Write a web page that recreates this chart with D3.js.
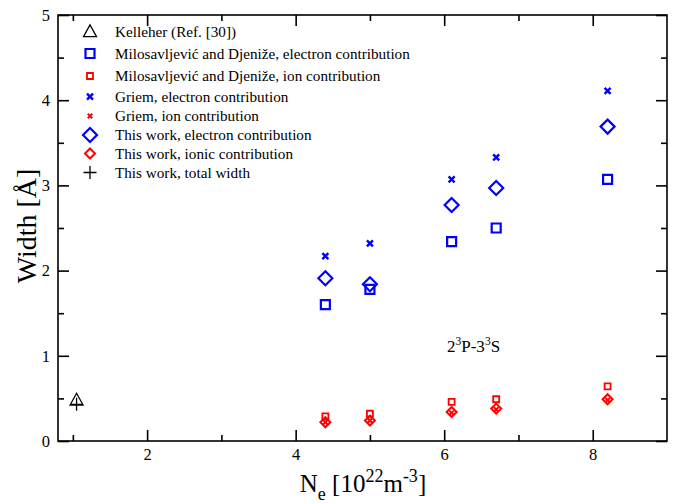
<!DOCTYPE html>
<html><head><meta charset="utf-8">
<script src="https://cdn.jsdelivr.net/npm/d3@7"></script>
<style>body{margin:0;background:#fff}svg{display:block}text{font-family:"Liberation Serif","Times New Roman",serif}</style>
</head><body><svg id="c" width="675" height="504"></svg>
<script>
// ---- data ----
const densities = [4.4, 5.0, 6.1, 6.7, 8.2];
const milosElectron = [1.60, 1.78, 2.34, 2.50, 3.07];
const milosIon = [0.29, 0.32, 0.46, 0.49, 0.64];
const griemElectron = [2.17, 2.32, 3.07, 3.33, 4.11];
const griemIon = [0.22, 0.24, 0.33, 0.37, 0.48];
const thisElectron = [1.91, 1.84, 2.77, 2.97, 3.69];
const thisIon = [0.22, 0.24, 0.34, 0.38, 0.49];
const kelleherX = [1.05];
const kelleherWidth = [0.48];
const totalX = [1.05];
const totalWidth = [0.43];
const xMajorTicks = [2, 4, 6, 8];
const xMinorTicks = [1, 3, 5, 7];
const yMajorTicks = [0, 1, 2, 3, 4, 5];
const yMinorTicks = [0.5, 1.5, 2.5, 3.5, 4.5];
const legendLabels = [
  "Kelleher (Ref. [30])",
  "Milosavljević and Djeniže, electron contribution",
  "Milosavljević and Djeniže, ion contribution",
  "Griem, electron contribution",
  "Griem, ion contribution",
  "This work, electron contribution",
  "This work, ionic contribution",
  "This work, total width"
];

const SERIF = '"Liberation Serif", "Times New Roman", serif';
const svg = d3.select("#c");
const L = 58, R = 667, T = 15, B = 441;
const x = d3.scaleLinear().domain([0.8, 9]).range([L, R]);
const y = d3.scaleLinear().domain([0, 5]).range([B, T]);

// frame
svg.append("rect").attr("x", L).attr("y", T).attr("width", R - L).attr("height", B - T)
  .attr("fill", "none").attr("stroke", "#000").attr("stroke-width", 1.6);

function axisStyle(g) {
  g.attr("font-family", SERIF);
  g.select(".domain").remove();
  g.selectAll(".tick line").attr("stroke", "#000").attr("stroke-width", 1.6);
  g.selectAll(".tick text").style("font-family", SERIF).attr("font-size", 16.5).attr("fill", "#000");
}
// bottom
svg.append("g").attr("transform", `translate(0,${B})`)
  .call(d3.axisBottom(x).tickValues(xMajorTicks).tickSize(-11).tickPadding(7).tickFormat(d3.format("d"))).call(axisStyle);
svg.append("g").attr("transform", `translate(0,${B})`)
  .call(d3.axisBottom(x).tickValues(xMinorTicks).tickSize(-6).tickFormat("")).call(axisStyle);
// top
svg.append("g").attr("transform", `translate(0,${T})`)
  .call(d3.axisTop(x).tickValues(xMajorTicks).tickSize(-11).tickFormat("")).call(axisStyle);
svg.append("g").attr("transform", `translate(0,${T})`)
  .call(d3.axisTop(x).tickValues(xMinorTicks).tickSize(-6).tickFormat("")).call(axisStyle);
// left
svg.append("g").attr("transform", `translate(${L},0)`)
  .call(d3.axisLeft(y).tickValues(yMajorTicks).tickSize(-11).tickPadding(8).tickFormat(d3.format("d"))).call(axisStyle);
svg.append("g").attr("transform", `translate(${L},0)`)
  .call(d3.axisLeft(y).tickValues(yMinorTicks).tickSize(-6).tickFormat("")).call(axisStyle);
// right
svg.append("g").attr("transform", `translate(${R},0)`)
  .call(d3.axisRight(y).tickValues(yMajorTicks).tickSize(-11).tickFormat("")).call(axisStyle);
svg.append("g").attr("transform", `translate(${R},0)`)
  .call(d3.axisRight(y).tickValues(yMinorTicks).tickSize(-6).tickFormat("")).call(axisStyle);

// marker shapes
function shape(type, s) {
  const h = s / 2;
  switch (type) {
    case "square": return `M${-h},${-h}H${h}V${h}H${-h}Z`;
    case "diamond": return `M0,${-h}L${h},0L0,${h}L${-h},0Z`;
    case "cross": return `M${-h},${-h}L${h},${h}M${h},${-h}L${-h},${h}`;
    case "plus": return `M${-h},0H${h}M0,${-h}V${h}`;
    case "triangle": return `M0,${-h * 1.05}L${h},${h * 0.75}L${-h},${h * 0.75}Z`;
  }
}
const BLUE = "#0000ff", RED = "#ff0000";
const series = [
  { xs: kelleherX, ys: kelleherWidth, type: "triangle", size: 13, color: "#000", sw: 1.3 },
  { xs: densities, ys: milosElectron, type: "square", size: 9, color: BLUE, sw: 2.2 },
  { xs: densities, ys: milosIon, type: "square", size: 6, color: RED, sw: 1.8 },
  { xs: densities, ys: griemElectron, type: "cross", size: 6, color: BLUE, sw: 2.4 },
  { xs: densities, ys: griemIon, type: "cross", size: 4.5, color: RED, sw: 2 },
  { xs: densities, ys: thisElectron, type: "diamond", size: 14, color: BLUE, sw: 2.2 },
  { xs: densities, ys: thisIon, type: "diamond", size: 10, color: RED, sw: 2 },
  { xs: totalX, ys: totalWidth, type: "plus", size: 13, color: "#000", sw: 1.3 }
];
series.forEach(s => {
  const pts = s.xs.map((v, i) => [v, s.ys[i]]);
  svg.append("g").selectAll("path").data(pts).join("path")
    .attr("d", shape(s.type, s.size))
    .attr("transform", d => `translate(${x(d[0])},${y(d[1])})`)
    .attr("fill", "none").attr("stroke", s.color).attr("stroke-width", s.sw);
});

// legend
const legendY = [31.7, 53.5, 76, 96.7, 116, 135, 153.5, 172.5];
const lg = svg.append("g");
series.forEach((s, i) => {
  lg.append("path").attr("d", shape(s.type, s.size))
    .attr("transform", `translate(90,${legendY[i]})`)
    .attr("fill", "none").attr("stroke", s.color).attr("stroke-width", s.sw);
  lg.append("text").attr("x", 115).attr("y", legendY[i] + 5).attr("font-size", 15.2).attr("fill", "#000")
    .style("font-family", SERIF).text(legendLabels[i]);
});

// annotation
const ann = svg.append("text").attr("x", 447).attr("y", 352).attr("font-size", 17).attr("fill", "#000").style("font-family", SERIF);
ann.append("tspan").text("2");
ann.append("tspan").attr("dy", -7).attr("font-size", 11.5).text("3");
ann.append("tspan").attr("dy", 7).text("P-3");
ann.append("tspan").attr("dy", -7).attr("font-size", 11.5).text("3");
ann.append("tspan").attr("dy", 7).text("S");

// axis titles
const xt = svg.append("text").attr("x", 363).attr("y", 492).attr("text-anchor", "middle").attr("font-size", 25).attr("fill", "#000").style("font-family", SERIF);
xt.append("tspan").text("N");
xt.append("tspan").attr("dy", 8).attr("font-size", 18).text("e");
xt.append("tspan").attr("dy", -8).text(" [10");
xt.append("tspan").attr("dy", -10).attr("font-size", 18).text("22");
xt.append("tspan").attr("dy", 10).text("m");
xt.append("tspan").attr("dy", -10).attr("font-size", 18).text("-3");
xt.append("tspan").attr("dy", 10).text("]");

svg.append("text").attr("transform", "translate(36,226) rotate(-90)").attr("text-anchor", "middle")
  .attr("font-size", 28).attr("fill", "#000").style("font-family", SERIF).text("Width [Å]");
</script></body></html>
